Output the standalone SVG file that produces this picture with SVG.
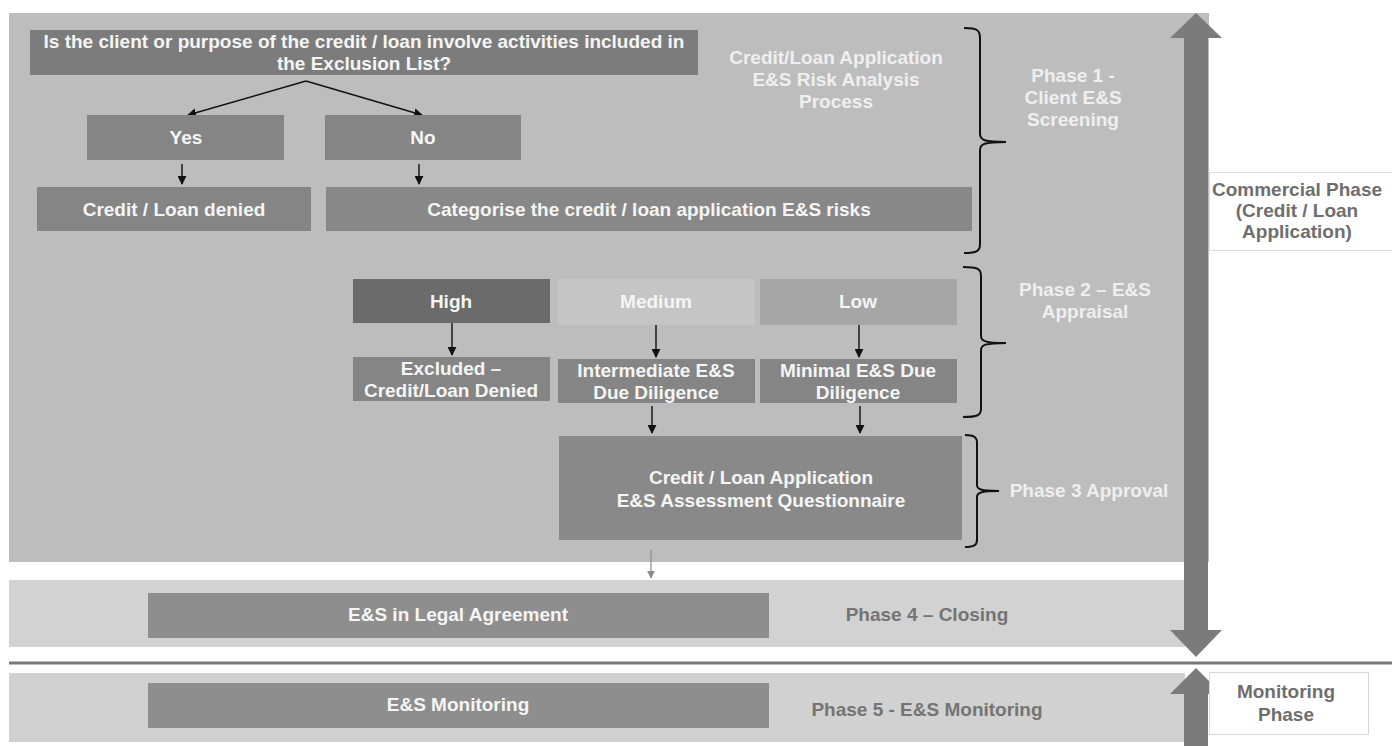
<svg xmlns="http://www.w3.org/2000/svg" width="1392" height="746" viewBox="0 0 1392 746">
<defs>
<style>
text{font-family:"Liberation Sans",Arial,sans-serif;font-weight:bold;font-size:19px;text-anchor:middle}
.wt{fill:#f5f5f5}
.lt{fill:#efefef}
.dt{fill:#747474}
.gt{fill:#6e6e6e}
.box{fill:#858585}
.con{stroke:#111;stroke-width:1.4;fill:none}
.brace{stroke:#111;stroke-width:2;fill:none}
</style>
<marker id="ah" viewBox="0 0 10 10" refX="9" refY="5" markerWidth="9" markerHeight="9" markerUnits="userSpaceOnUse" orient="auto">
<path d="M0,0 L10,5 L0,10 z" fill="#111"/>
</marker>
<marker id="ahg" viewBox="0 0 10 10" refX="9" refY="5" markerWidth="8" markerHeight="8" markerUnits="userSpaceOnUse" orient="auto">
<path d="M0,0 L10,5 L0,10 z" fill="#8a8a8a"/>
</marker>
</defs>
<rect width="1392" height="746" fill="#ffffff"/>

<g id="panels">
<rect x="9" y="13" width="1200" height="549" fill="#bdbdbe"/>
<rect x="9" y="580" width="1176" height="67" fill="#d2d2d2"/>
<rect x="9" y="673" width="1176" height="69" fill="#d1d1d1"/>
<line x1="9" y1="663" x2="1392" y2="663" stroke="#787878" stroke-width="3"/>
</g>

<g id="bigarrows" fill="#7b7b7b">
<path d="M1196,13 L1222,38 L1208,38 L1208,630 L1222,630 L1196,657 L1170,630 L1184,630 L1184,38 L1170,38 Z"/>
<path d="M1196,668 L1222,694 L1208,694 L1208,746 L1184,746 L1184,694 L1170,694 Z"/>
</g>

<g id="connectors">
<line class="con" x1="306" y1="81" x2="188" y2="115" marker-end="url(#ah)"/>
<line class="con" x1="306" y1="81" x2="422" y2="115" marker-end="url(#ah)"/>
<line class="con" x1="182" y1="164" x2="182" y2="184" marker-end="url(#ah)"/>
<line class="con" x1="419" y1="164" x2="419" y2="184" marker-end="url(#ah)"/>
<line class="con" x1="452" y1="323" x2="452" y2="355" marker-end="url(#ah)"/>
<line class="con" x1="656" y1="325" x2="656" y2="357" marker-end="url(#ah)"/>
<line class="con" x1="859" y1="325" x2="859" y2="357" marker-end="url(#ah)"/>
<line class="con" x1="652" y1="406" x2="652" y2="433" marker-end="url(#ah)"/>
<line class="con" x1="860" y1="406" x2="860" y2="433" marker-end="url(#ah)"/>
<line x1="651" y1="550" x2="651" y2="578" stroke="#8a8a8a" stroke-width="1.2" marker-end="url(#ahg)"/>
</g>

<g id="braces">
<path class="brace" d="M964,28 C977,28 980,30 980,38 L980,134 C980,140 984,142 1006,142 C984,142 980,144 980,150 L980,244 C980,251 977,253 964,253"/>
<path class="brace" d="M963,267 C978,267 981,269 981,276 L981,336 C981,341 985,343 1006,343 C985,343 981,345 981,350 L981,409 C981,415 978,417 963,417"/>
<path class="brace" d="M965,435 C974,435 977,437 977,443 L977,485 C977,489 980,491 999,491 C980,491 977,493 977,497 L977,540 C977,545 974,547 965,547"/>
</g>

<g id="n-question">
<rect x="30" y="30" width="668" height="45" fill="#7c7c7c"/>
<text class="wt" x="364" y="48">Is the client or purpose of the credit / loan involve activities included in</text>
<text class="wt" x="364" y="70">the Exclusion List?</text>
</g>
<g id="n-yes"><rect class="box" x="87" y="115" width="197" height="45"/><text class="wt" x="186" y="144">Yes</text></g>
<g id="n-no"><rect class="box" x="325" y="115" width="196" height="45"/><text class="wt" x="423" y="144">No</text></g>
<g id="n-denied"><rect class="box" x="37" y="187" width="274" height="44"/><text class="wt" x="174" y="216">Credit / Loan denied</text></g>
<g id="n-categorise"><rect fill="#888888" x="326" y="187" width="646" height="44"/><text class="wt" x="649" y="216">Categorise the credit / loan application E&amp;S risks</text></g>

<g id="n-process-label">
<text class="lt" x="836" y="64">Credit/Loan Application</text>
<text class="lt" x="836" y="86">E&amp;S Risk Analysis</text>
<text class="lt" x="836" y="108">Process</text>
</g>
<g id="n-phase1">
<text class="lt" x="1073" y="82">Phase 1 -</text>
<text class="lt" x="1073" y="104">Client E&amp;S</text>
<text class="lt" x="1073" y="126">Screening</text>
</g>

<g id="n-high"><rect fill="#6b6b6b" x="353" y="279" width="197" height="44"/><text class="wt" x="451" y="308">High</text></g>
<g id="n-medium"><rect fill="#c5c5c5" x="558" y="279" width="197" height="46"/><text class="wt" x="656" y="308">Medium</text></g>
<g id="n-low"><rect fill="#a6a6a6" x="760" y="279" width="197" height="46"/><text class="wt" x="858" y="308">Low</text></g>

<g id="n-excluded"><rect class="box" x="353" y="357" width="197" height="44"/>
<text class="wt" x="451" y="375">Excluded –</text><text class="wt" x="451" y="397">Credit/Loan Denied</text></g>
<g id="n-intermediate"><rect class="box" x="558" y="359" width="197" height="44"/>
<text class="wt" x="656" y="377">Intermediate E&amp;S</text><text class="wt" x="656" y="399">Due Diligence</text></g>
<g id="n-minimal"><rect class="box" x="760" y="359" width="197" height="44"/>
<text class="wt" x="858" y="377">Minimal E&amp;S Due</text><text class="wt" x="858" y="399">Diligence</text></g>

<g id="n-phase2">
<text class="lt" x="1085" y="296">Phase 2 – E&amp;S</text>
<text class="lt" x="1085" y="318">Appraisal</text>
</g>

<g id="n-questionnaire"><rect fill="#898989" x="559" y="436" width="403" height="104"/>
<text class="wt" x="761" y="484">Credit / Loan Application</text>
<text class="wt" x="761" y="507">E&amp;S Assessment Questionnaire</text></g>
<g id="n-phase3"><text class="lt" x="1089" y="497">Phase 3 Approval</text></g>

<g id="n-legal"><rect fill="#8e8e8e" x="148" y="593" width="621" height="45"/><text class="wt" x="458" y="621">E&amp;S in Legal Agreement</text></g>
<g id="n-phase4"><text class="dt" x="927" y="621">Phase 4 – Closing</text></g>

<g id="n-monitoring"><rect fill="#8e8e8e" x="148" y="683" width="621" height="45"/><text class="wt" x="458" y="711">E&amp;S Monitoring</text></g>
<g id="n-phase5"><text class="dt" x="927" y="716">Phase 5 - E&amp;S Monitoring</text></g>

<g id="n-commercial">
<rect x="1209.5" y="172.5" width="190" height="78" fill="#ffffff" stroke="#dedede" stroke-width="1"/>
<text class="gt" x="1297" y="196">Commercial Phase</text>
<text class="gt" x="1297" y="217">(Credit / Loan</text>
<text class="gt" x="1297" y="238">Application)</text>
</g>
<g id="n-monitoring-phase">
<rect x="1209.5" y="672.5" width="159" height="62" fill="#ffffff" stroke="#d6d6d6" stroke-width="1"/>
<text class="gt" x="1286" y="698">Monitoring</text>
<text class="gt" x="1286" y="721">Phase</text>
</g>
</svg>
